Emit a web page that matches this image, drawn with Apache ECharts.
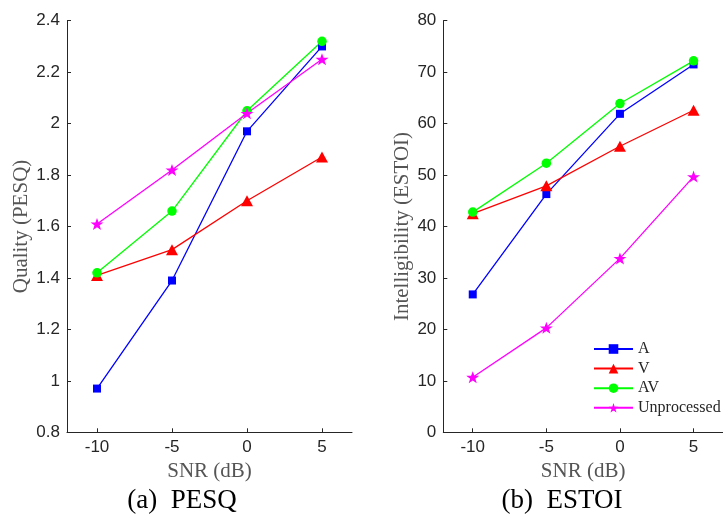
<!DOCTYPE html>
<html>
<head>
<meta charset="utf-8">
<script src="https://cdn.jsdelivr.net/npm/echarts@6/dist/echarts.min.js"></script>
<style>
html,body{margin:0;padding:0;background:#fff;}
#chart{width:723px;height:521px;}
</style>
</head>
<body>
<div id="chart"></div>
<script>
// ---- data ----
const snr = [-10, -5, 0, 5];
const xTicks = [-10, -5, 0, 5];
const seriesNames = ['A', 'V', 'AV', 'Unprocessed'];

const pesqA = [0.97, 1.39, 1.97, 2.30];
const pesqV = [1.41, 1.51, 1.70, 1.87];
const pesqAV = [1.42, 1.66, 2.05, 2.32];
const pesqUnproc = [1.61, 1.82, 2.04, 2.25];

const estoiA = [26.8, 46.3, 61.9, 71.5];
const estoiV = [42.5, 47.9, 55.6, 62.6];
const estoiAV = [42.8, 52.3, 63.9, 72.2];
const estoiUnproc = [10.7, 20.3, 33.8, 49.7];

const panelTitles = ['(a)  PESQ', '(b)  ESTOI'];
const yTitles = ['Quality (PESQ)', 'Intelligibility (ESTOI)'];
const xTitle = 'SNR (dB)';

// ---- styles ----
const STAR = 'path://M50,0 L62,35 L98,35 L69,57 L80,92 L50,71 L20,92 L31,57 L2,35 L38,35 Z';
const styles = {
  'A': {color: '#0000ff', symbol: 'rect', size: 8},
  'V': {color: '#ff0000', symbol: 'triangle', size: [12, 11]},
  'AV': {color: '#00ff00', symbol: 'circle', size: 9.5},
  'Unprocessed': {color: '#ff00ff', symbol: STAR, size: [13, 12]}
};
const serif = 'Liberation Serif, Times New Roman, serif';
const sans = 'Liberation Sans, Arial, Helvetica, sans-serif';
const axisColor = '#262626';
const nameColor = '#555555';

function pairs(vals) { return snr.map((x, i) => [x, vals[i]]); }

function mkSeries(name, vals, idx) {
  const s = styles[name];
  return {
    name: name,
    type: 'line',
    xAxisIndex: idx,
    yAxisIndex: idx,
    data: pairs(vals),
    symbol: s.symbol,
    symbolSize: s.size,
    showAllSymbol: true,
    lineStyle: {color: s.color, width: 1.3},
    itemStyle: {color: s.color, borderWidth: 0},
    emphasis: {disabled: true},
    animation: false,
    z: 3
  };
}

function xAxis(idx) {
  return {
    type: 'value', gridIndex: idx, min: -12, max: 7,
    name: xTitle, nameLocation: 'middle', nameGap: 20,
    nameTextStyle: {fontFamily: serif, fontSize: 21, color: nameColor},
    axisLine: {show: true, onZero: false, lineStyle: {color: axisColor, width: 1}},
    axisTick: {show: true, inside: true, length: 4, customValues: xTicks, lineStyle: {color: axisColor}},
    axisLabel: {customValues: xTicks, margin: 7, fontFamily: sans, fontSize: 17, color: axisColor},
    splitLine: {show: false}
  };
}

function yAxis(idx, min, max, interval, gap) {
  return {
    type: 'value', gridIndex: idx, min: min, max: max, interval: interval,
    name: yTitles[idx], nameLocation: 'middle', nameGap: gap, nameRotate: 90,
    nameTextStyle: {fontFamily: serif, fontSize: 21, color: nameColor},
    axisLine: {show: true, onZero: false, lineStyle: {color: axisColor, width: 1}},
    axisTick: {show: true, inside: true, length: 4, lineStyle: {color: axisColor}},
    axisLabel: {margin: 7, fontFamily: sans, fontSize: 17, color: axisColor},
    splitLine: {show: false}
  };
}

const chart = echarts.init(document.getElementById('chart'), null, {renderer: 'canvas'});
const option = {
  backgroundColor: '#ffffff',
  animation: false,
  grid: [
    {left: 67, top: 20.7, width: 285, height: 411.6},
    {left: 443.3, top: 20.7, width: 288.8, height: 411.6}
  ],
  xAxis: [xAxis(0), xAxis(1)],
  yAxis: [yAxis(0, 0.8, 2.4, 0.2, 34), yAxis(1, 0, 80, 10, 30)],
  legend: {
    data: seriesNames,
    orient: 'vertical',
    left: 588, top: 336,
    itemWidth: 39, itemHeight: 12, itemGap: 3.6,
    textStyle: {fontFamily: serif, fontSize: 16, color: axisColor},
    selectedMode: false
  },
  graphic: [
    {type: 'text', style: {text: panelTitles[0], x: 182, y: 501, textAlign: 'center', textVerticalAlign: 'middle', font: '27px ' + serif, fill: '#000'}},
    {type: 'text', style: {text: panelTitles[1], x: 562, y: 501, textAlign: 'center', textVerticalAlign: 'middle', font: '27px ' + serif, fill: '#000'}}
  ],
  series: [
    mkSeries('A', pesqA, 0),
    mkSeries('V', pesqV, 0),
    mkSeries('AV', pesqAV, 0),
    mkSeries('Unprocessed', pesqUnproc, 0),
    mkSeries('A', estoiA, 1),
    mkSeries('V', estoiV, 1),
    mkSeries('AV', estoiAV, 1),
    mkSeries('Unprocessed', estoiUnproc, 1)
  ]
};
chart.setOption(option);
</script>
</body>
</html>
